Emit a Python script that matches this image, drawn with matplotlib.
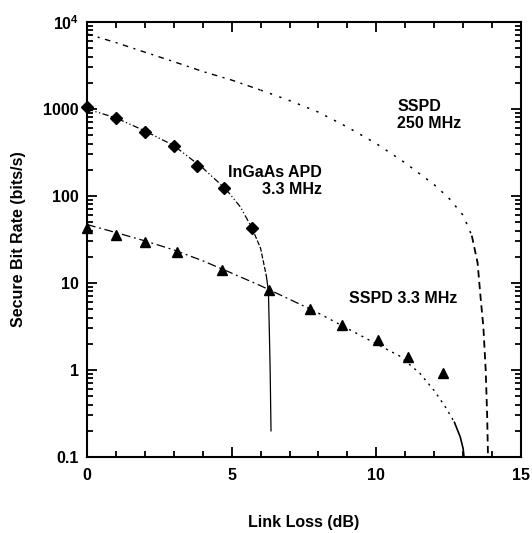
import matplotlib
matplotlib.use("Agg")
import matplotlib.pyplot as plt
from matplotlib.ticker import FixedLocator, NullFormatter, FixedFormatter, LogLocator

plt.rcParams['font.family'] = ['Liberation Sans', 'DejaVu Sans']
plt.rcParams['font.weight'] = 'bold'
plt.rcParams['mathtext.fontset'] = 'custom'
plt.rcParams['mathtext.rm'] = 'Liberation Sans:bold'
plt.rcParams['mathtext.bf'] = 'Liberation Sans:bold'
plt.rcParams['mathtext.it'] = 'Liberation Sans:bold'

# ---- data ----
# InGaAs APD 3.3 MHz: measured points and model curve
apd_x = [0, 1, 2, 3, 3.8, 4.75, 5.7]
apd_y = [1050, 790, 545, 375, 220, 123, 43]
apd_curve_x = [0, 1, 2, 3, 4, 4.8, 5.3, 5.7, 6.0, 6.2, 6.27, 6.3, 6.33, 6.36]
apd_curve_y = [1000, 790, 560, 380, 210, 120, 75, 43, 25, 12, 8, 3, 1, 0.2]

# SSPD 3.3 MHz: measured points and model curve
sspd_x = [0, 1, 2, 3.1, 4.65, 6.3, 7.7, 8.8, 10.05, 11.1, 12.3]
sspd_y = [43, 36, 29.5, 23, 14.2, 8.3, 5.0, 3.3, 2.2, 1.42, 0.93]
sspd_curve_x = [0, 1, 2, 3, 4, 5, 6, 7, 8, 9, 10, 10.8, 11.5, 12, 12.4, 12.7, 12.9, 13.0, 13.03]
sspd_curve_y = [47, 38, 30.5, 24, 18, 13, 9.3, 6.5, 4.5, 3.0, 2.0, 1.45, 0.92, 0.58, 0.37, 0.25, 0.17, 0.125, 0.1]

# SSPD 250 MHz: model curve
s250_x = [0, 1, 2, 3, 4, 5, 6, 7, 8, 9, 10, 11, 12, 12.5, 13, 13.3, 13.5, 13.6, 13.7, 13.78, 13.83, 13.86]
s250_y = [7300, 5800, 4500, 3500, 2700, 2150, 1650, 1250, 920, 620, 400, 240, 135, 95, 60, 35, 17, 7, 3.1, 1, 0.3, 0.1]

x_ticks = [0, 5, 10, 15]
y_ticks = [0.1, 1, 10, 100, 1000, 10000]
y_tick_labels = ['0.1', '1', '10', '100', '1000', r'$10^4$']

fig = plt.figure(figsize=(5.32, 5.33), dpi=100)
ax = fig.add_axes([87/532, 1-457/533, (521-87)/532, (457-22)/533])
ax.set_yscale('log')
ax.set_xlim(0, 15)
ax.set_ylim(0.1, 1e4)

def seg(xs, ys, lo, hi, width=0.9, **kw):
    idx = [i for i in range(len(xs)) if lo <= i <= hi]
    ax.plot([xs[i] for i in idx], [ys[i] for i in idx], color='black', lw=width, **kw)

# SSPD 250 MHz curve: dash-dot, then dotted, then dashed
seg(s250_x, s250_y, 0, 6, width=1.0, dashes=(4, 4, 1.5, 4))
seg(s250_x, s250_y, 6, 15, width=1.1, dashes=(1.5, 5))
seg(s250_x, s250_y, 15, 21, width=1.3, dashes=(4, 2.5))

# APD curve
seg(apd_curve_x, apd_curve_y, 0, 7, dashes=(5, 2, 1, 2, 1, 2))
seg(apd_curve_x, apd_curve_y, 7, 9, dashes=(4, 1.5))
seg(apd_curve_x, apd_curve_y, 9, 13)

# SSPD 3.3 MHz curve
seg(sspd_curve_x, sspd_curve_y, 0, 8, dashes=(7, 3, 1.5, 3))
seg(sspd_curve_x, sspd_curve_y, 8, 15, width=1.0, dashes=(1.5, 3.5))
seg(sspd_curve_x, sspd_curve_y, 15, 18, width=1.2)

ax.plot(apd_x, apd_y, linestyle='none', marker='D', ms=6.5, color='black', clip_on=False, zorder=5)
ax.plot(sspd_x, sspd_y, linestyle='none', marker='^', ms=7, color='black', clip_on=False, zorder=5)

fs = 11.5
ax.text(10.72, 850, 'SSPD\n250 MHz', fontsize=fs, fontweight='bold', ha='left', va='center', linespacing=1.15)
ax.text(8.12, 149, 'InGaAs APD\n3.3 MHz', fontsize=fs, fontweight='bold', ha='right', va='center',
        multialignment='right', linespacing=1.15)
ax.text(9.06, 6.7, 'SSPD 3.3 MHz', fontsize=fs, fontweight='bold', ha='left', va='center')

ax.set_xlabel('Link Loss (dB)', fontsize=fs, fontweight='bold', labelpad=23)
ax.set_ylabel('Secure Bit Rate (bits/s)', fontsize=fs, fontweight='bold', labelpad=12)

ax.xaxis.set_major_locator(FixedLocator(x_ticks))
ax.xaxis.set_minor_locator(FixedLocator([1, 2, 3, 4, 6, 7, 8, 9, 11, 12, 13, 14]))
ax.yaxis.set_major_locator(FixedLocator(y_ticks))
ax.yaxis.set_major_formatter(FixedFormatter(y_tick_labels))
ax.yaxis.set_minor_locator(LogLocator(base=10, subs=range(2, 10), numticks=20))
ax.yaxis.set_minor_formatter(NullFormatter())

ax.tick_params(which='both', direction='in', top=True, right=True, width=1.3, labelsize=fs)
ax.tick_params(which='major', length=7, pad=8)
ax.tick_params(which='minor', length=4.5)
ax.tick_params(axis='y', which='major', pad=6)
for lab in ax.get_xticklabels() + ax.get_yticklabels():
    lab.set_fontweight('bold')
for s in ax.spines.values():
    s.set_linewidth(1.5)

fig.savefig('out.png', dpi=100)
